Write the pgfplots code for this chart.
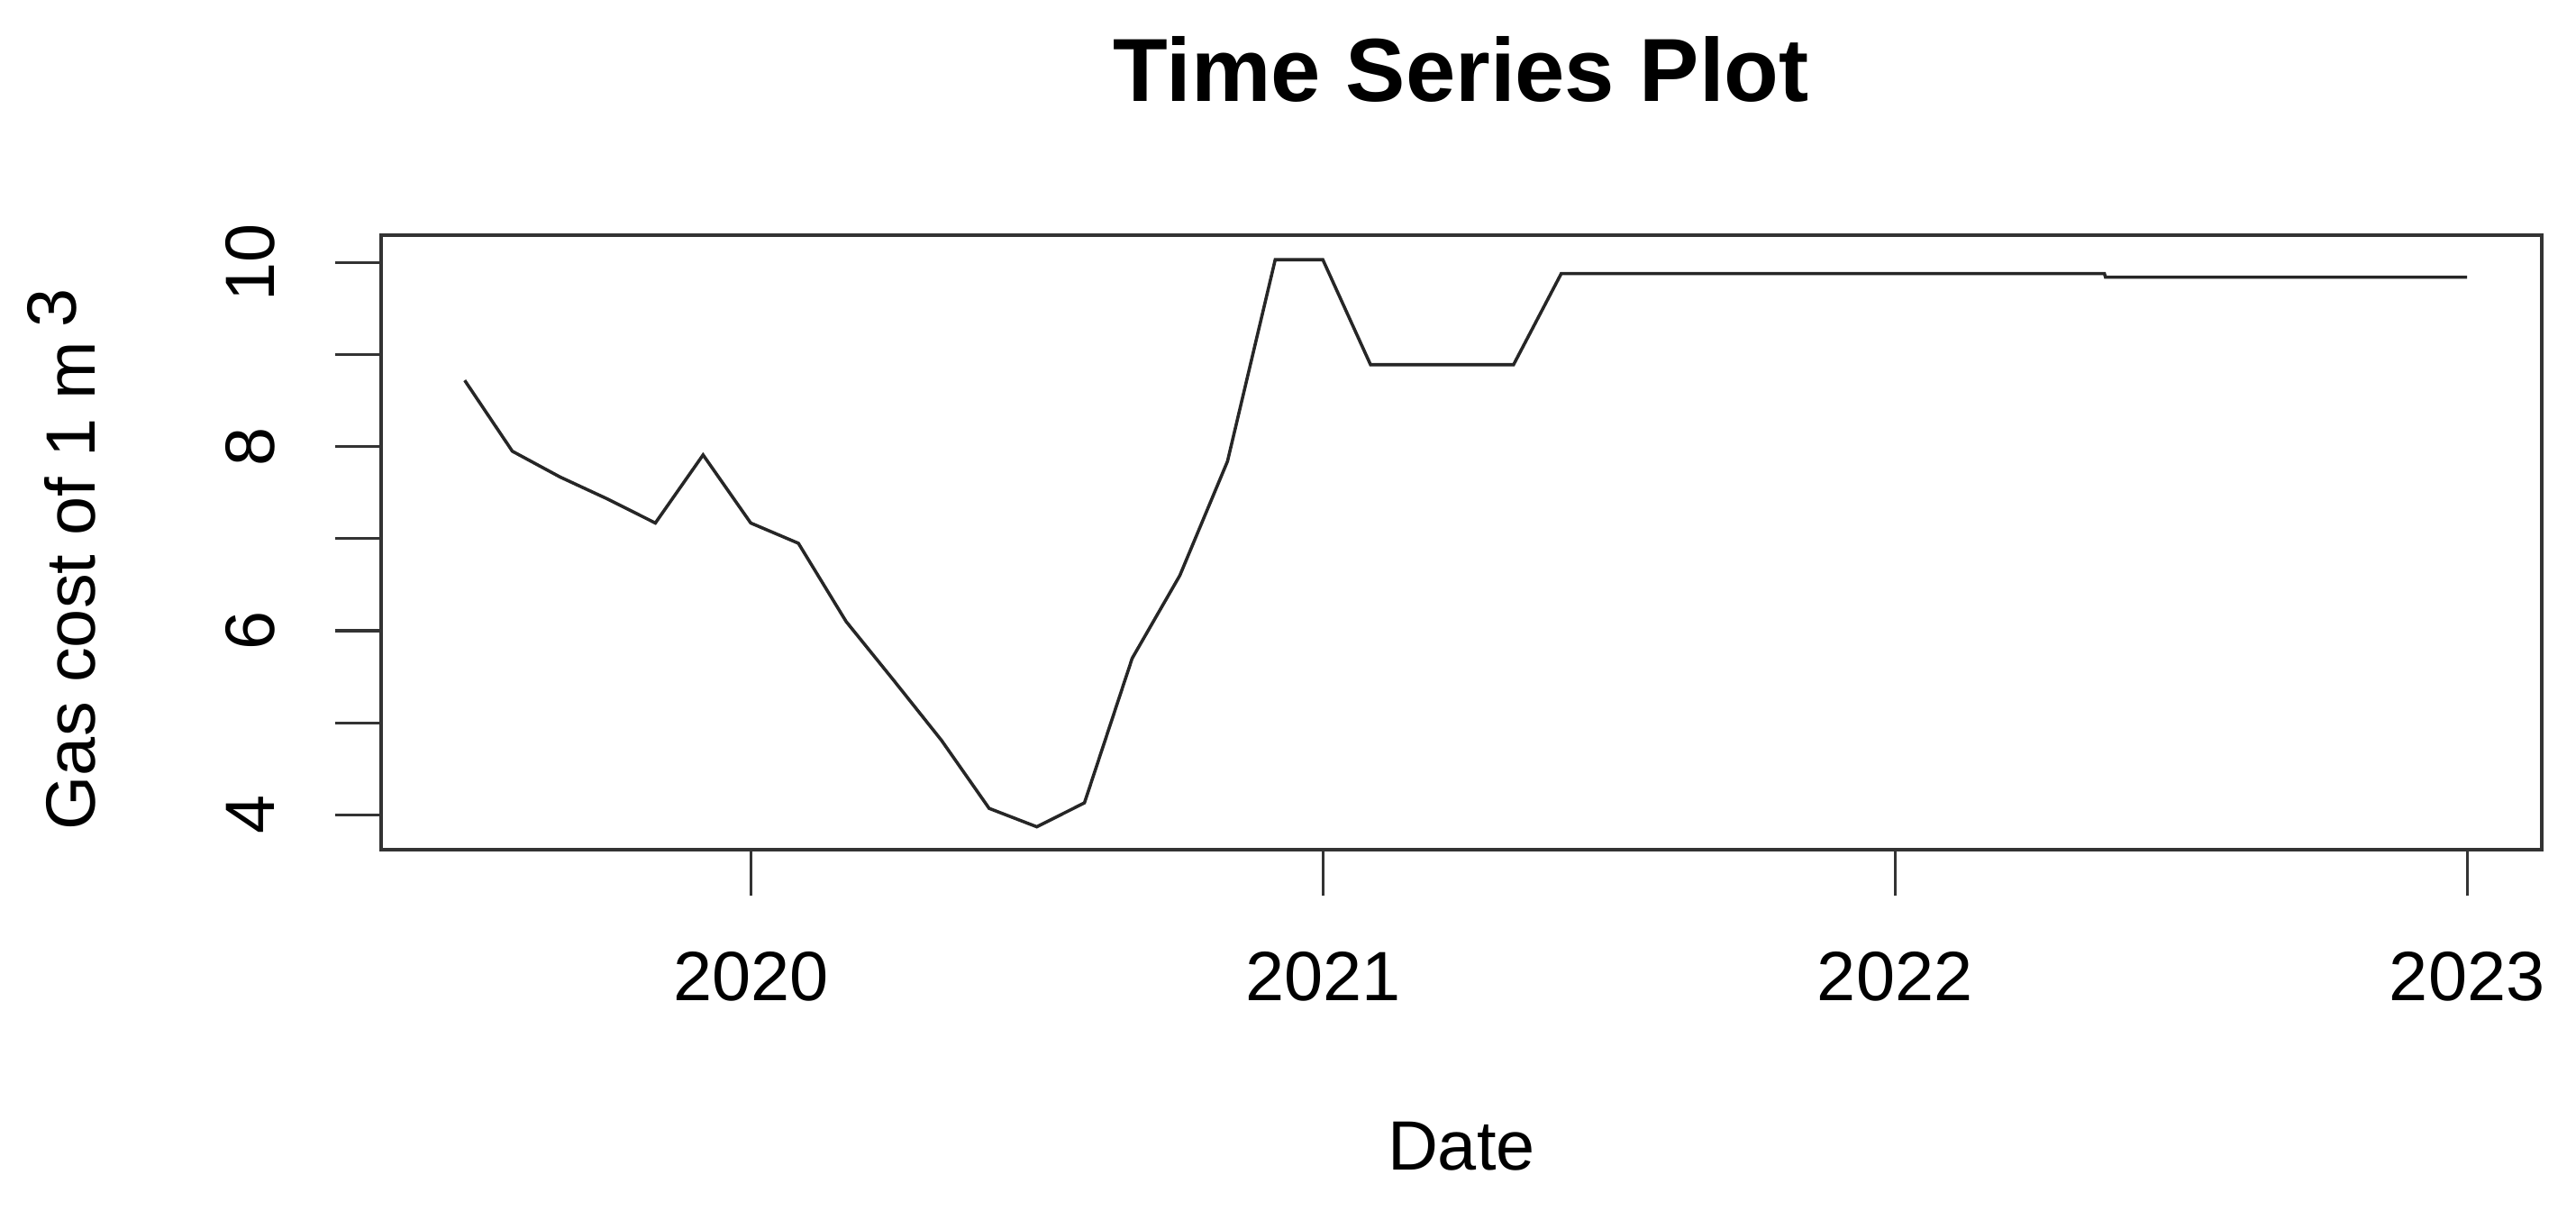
\documentclass[border=0pt]{standalone}
\usepackage{fontspec}
\setmainfont{Liberation Sans}
\usepackage{pgfplots}
\usepackage{pgfplotstable}
\pgfplotsset{compat=1.18}
\pgfplotstableread{
x y
2019.5000 8.72
2019.5833 7.95
2019.6667 7.67
2019.7500 7.43
2019.8333 7.17
2019.9167 7.91
2020.0000 7.17
2020.0833 6.95
2020.1667 6.10
2020.2500 5.46
2020.3333 4.81
2020.4167 4.07
2020.5000 3.87
2020.5833 4.13
2020.6667 5.70
2020.7500 6.60
2020.8333 7.84
2020.9167 10.03
2021.0000 10.03
2021.0833 8.89
2021.1667 8.89
2021.2500 8.89
2021.3333 8.89
2021.4167 9.88
2021.5000 9.88
2021.5833 9.88
2021.6667 9.88
2021.7500 9.88
2021.8333 9.88
2021.9167 9.88
2022.0000 9.88
2022.0833 9.88
2022.1667 9.88
2022.2500 9.88
2022.3333 9.88
2022.3660 9.88
2022.3680 9.84
2022.4167 9.84
2022.5000 9.84
2022.5833 9.84
2022.6667 9.84
2022.7500 9.84
2022.8333 9.84
2022.9167 9.84
2023.0000 9.84
}\gas
\begin{document}
\begin{tikzpicture}
\path[use as bounding box] (-65.52pt,-62.13pt) rectangle (377.29pt,146pt);
\begin{axis}[
  scale only axis, width=371.36pt, height=105.62pt,
  at={(0,0)}, anchor=south west,
  xmin=2019.354, xmax=2023.13, ymin=3.625, ymax=10.30,
  clip=false,
  axis line style={line width=0.65pt, black!80},
  tick style={black!80, line width=0.5pt},
  tick align=outside, major tick length=8pt,
  xtick={2020,2021,2022,2023}, xticklabels={2020,2021,2022,2023},
  ytick={4,5,6,7,8,9,10}, yticklabels={4,,6,,8,,10},
  xtick pos=bottom, ytick pos=left,
  /pgf/number format/assume math mode=true,
  ticklabel style={font=\fontsize{12}{14}\selectfont},
  xticklabel style={anchor=base},
  xticklabel shift=18pt,
  yticklabel style={rotate=90, anchor=base},
  yticklabel shift=10.36pt,
]
\addplot[black!85, line width=0.55pt, mark=none] table[x=x, y=y] {\gas};
\node[anchor=base, font=\bfseries\fontsize{15.4}{18}\selectfont] at ([yshift=22.93pt]rel axis cs:0.5,1) {Time Series Plot};
\node[anchor=base, font=\fontsize{12}{14}\selectfont] at ([yshift=-55.07pt]rel axis cs:0.5,0) {Date};
\node[anchor=base, rotate=90, font=\fontsize{12}{14}\selectfont] at ([xshift=-49.14pt]rel axis cs:0,0.472) {Gas cost of 1 m\hspace{0.2em}\raisebox{0.27em}{3}};
\end{axis}
\end{tikzpicture}
\end{document}
